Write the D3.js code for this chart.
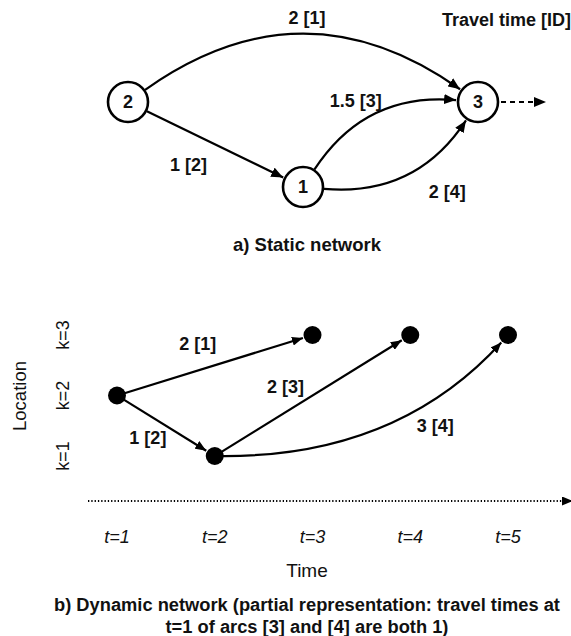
<!DOCTYPE html>
<html>
<head>
<meta charset="utf-8">
<script src="https://cdn.jsdelivr.net/npm/d3@7"></script>
<style>
  body { margin: 0; background: #fff; }
  text { font-family: "Liberation Sans", Arial, Helvetica, sans-serif; fill: #111; }
</style>
</head>
<body>
<div id="chart"></div>
<script>
// static network (a)
const staticIds = ['1', '2', '3']
const staticCol = [0.5, 0, 1]
const staticRow = [1, 0, 0]

const arcIds = [1, 2, 3, 4]
const staticFrom = ['2', '2', '1', '1']
const staticTo = ['3', '1', '3', '3']
const staticTravel = ['2', '1', '1.5', '2']

// dynamic network (b)
const timeSteps = [1, 2, 3, 4, 5]
const locations = [1, 2, 3]
const dynFromT = [1, 1, 2, 2]
const dynFromK = [2, 2, 1, 1]
const dynToT = [3, 2, 4, 5]
const dynToK = [3, 1, 3, 3]
const dynTravel = ['2', '1', '2', '3']
const dynNodesT = [1, 2, 3, 4, 5]
const dynNodesK = [2, 1, 3, 3, 3]

const width = 571,
  height = 636

let svg = d3.select('#chart')
  .append('svg')
  .attr('width', width)
  .attr('height', height)

let defs = svg.append('defs')
let mkArrow = (id, w, l) => {
  defs.append('marker')
    .attr('id', id)
    .attr('markerUnits', 'userSpaceOnUse')
    .attr('viewBox', `0 ${-w / 2} ${l} ${w}`)
    .attr('refX', l)
    .attr('refY', 0)
    .attr('markerWidth', l)
    .attr('markerHeight', w)
    .attr('orient', 'auto')
    .append('path')
    .attr('d', `M0,${-w / 2}L${l},0L0,${w / 2}Z`)
    .attr('fill', '#000')
}
mkArrow('arr', 10, 12)
mkArrow('arrS', 9, 11)

// curved path between two points, cut at node radius
let arcPath = (p0, p2, bend, shift, r0, r2) => {
  const dx = p2[0] - p0[0], dy = p2[1] - p0[1]
  const mx = (p0[0] + p2[0]) / 2, my = (p0[1] + p2[1]) / 2
  // control point: perpendicular bend + shift along the chord
  const c = [mx + bend * dy + shift * dx, my - bend * dx + shift * dy]
  const u0 = [c[0] - p0[0], c[1] - p0[1]], l0 = Math.hypot(u0[0], u0[1])
  const u2 = [c[0] - p2[0], c[1] - p2[1]], l2 = Math.hypot(u2[0], u2[1])
  const s = [p0[0] + u0[0] / l0 * r0, p0[1] + u0[1] / l0 * r0]
  const e = [p2[0] + u2[0] / l2 * r2, p2[1] + u2[1] / l2 * r2]
  const mid = [0.25 * p0[0] + 0.5 * c[0] + 0.25 * p2[0], 0.25 * p0[1] + 0.5 * c[1] + 0.25 * p2[1]]
  const p = d3.path()
  p.moveTo(s[0], s[1])
  p.quadraticCurveTo(c[0], c[1], e[0], e[1])
  return { d: p.toString(), mid: mid }
}

// ---------- a) static network ----------
const sx = d3.scaleLinear().domain([0, 1]).range([128, 478])
const sy = d3.scaleLinear().domain([0, 1]).range([102, 187])
const nodeR = 20
const pos = id => {
  const i = staticIds.indexOf(id)
  return [sx(staticCol[i]), sy(staticRow[i])]
}

const staticBend = { 1: 0.355, 2: 0, 3: 0.3, 4: -0.3 }
const staticLabelOff = { 1: [4, -22], 2: [-27, 20], 3: [-22, -18], 4: [44, 21] }

let gA = svg.append('g')
arcIds.forEach((id, i) => {
  const a = arcPath(pos(staticFrom[i]), pos(staticTo[i]), staticBend[id], 0, nodeR + 1, nodeR + 2)
  gA.append('path')
    .attr('d', a.d)
    .attr('fill', 'none')
    .attr('stroke', '#000')
    .attr('stroke-width', 2.2)
    .attr('marker-end', 'url(#arr)')
  gA.append('text')
    .attr('x', a.mid[0] + staticLabelOff[id][0])
    .attr('y', a.mid[1] + staticLabelOff[id][1])
    .attr('dy', '0.35em')
    .attr('text-anchor', 'middle')
    .attr('font-weight', 'bold')
    .attr('font-size', 18)
    .text(`${staticTravel[i]} [${id}]`)
})

// dashed exit arrow from node 3
const p3 = pos('3')
gA.append('line')
  .attr('x1', p3[0] + nodeR + 3)
  .attr('x2', p3[0] + 68)
  .attr('y1', p3[1])
  .attr('y2', p3[1])
  .attr('stroke', '#000')
  .attr('stroke-width', 2.2)
  .attr('stroke-dasharray', '5,4')
  .attr('marker-end', 'url(#arr)')

let nodes = gA.selectAll('g.node')
  .data(staticIds)
  .enter()
  .append('g')
  .attr('class', 'node')
  .attr('transform', d => `translate(${pos(d)[0]},${pos(d)[1]})`)
nodes.append('circle')
  .attr('r', nodeR)
  .attr('fill', '#fff')
  .attr('stroke', '#000')
  .attr('stroke-width', 2.6)
nodes.append('text')
  .attr('text-anchor', 'middle')
  .attr('dy', '0.35em')
  .attr('font-weight', 'bold')
  .attr('font-size', 18)
  .text(d => d)

gA.append('text')
  .attr('x', 571)
  .attr('y', 20)
  .attr('dy', '0.35em')
  .attr('text-anchor', 'end')
  .attr('font-weight', 'bold')
  .attr('font-size', 18)
  .text('Travel time [ID]')

gA.append('text')
  .attr('x', 307)
  .attr('y', 245)
  .attr('dy', '0.35em')
  .attr('text-anchor', 'middle')
  .attr('font-weight', 'bold')
  .attr('font-size', 18.5)
  .text('a) Static network')

// ---------- b) dynamic network ----------
const xScale = d3.scaleLinear().domain([1, 5]).range([117, 508])
const yScale = d3.scaleLinear().domain([1, 3]).range([456, 335])
const dotR = 9

let gB = svg.append('g')

const dynBend = { 1: 0, 2: 0, 3: 0, 4: -0.222 }
const dynShift = { 1: 0, 2: 0, 3: 0, 4: 0.03 }
const dynLabelOff = { 1: [-17, -22], 2: [-18, 12], 3: [-27, -9], 4: [56, -1] }

arcIds.forEach((id, i) => {
  const p0 = [xScale(dynFromT[i]), yScale(dynFromK[i])]
  const p2 = [xScale(dynToT[i]), yScale(dynToK[i])]
  const a = arcPath(p0, p2, dynBend[id], dynShift[id], dotR - 2, dotR + 1)
  gB.append('path')
    .attr('d', a.d)
    .attr('fill', 'none')
    .attr('stroke', '#000')
    .attr('stroke-width', 2.2)
    .attr('marker-end', 'url(#arrS)')
  gB.append('text')
    .attr('x', a.mid[0] + dynLabelOff[id][0])
    .attr('y', a.mid[1] + dynLabelOff[id][1])
    .attr('dy', '0.35em')
    .attr('text-anchor', 'middle')
    .attr('font-weight', 'bold')
    .attr('font-size', 18)
    .text(`${dynTravel[i]} [${id}]`)
})

gB.selectAll('circle.dot')
  .data(dynNodesT)
  .enter()
  .append('circle')
  .attr('class', 'dot')
  .attr('cx', d => xScale(d))
  .attr('cy', (d, i) => yScale(dynNodesK[i]))
  .attr('r', dotR)
  .attr('fill', '#000')

// time axis (dotted)
gB.append('line')
  .attr('x1', 88)
  .attr('x2', 573)
  .attr('y1', 501)
  .attr('y2', 501)
  .attr('stroke', '#000')
  .attr('stroke-width', 2)
  .attr('stroke-dasharray', '1.3,2')
  .attr('marker-end', 'url(#arrS)')

gB.selectAll('text.tick')
  .data(timeSteps)
  .enter()
  .append('text')
  .attr('class', 'tick')
  .attr('x', d => xScale(d))
  .attr('y', 537)
  .attr('dy', '0.35em')
  .attr('text-anchor', 'middle')
  .attr('font-style', 'italic')
  .attr('font-size', 18)
  .text(d => `t=${d}`)

gB.selectAll('text.loc')
  .data(locations)
  .enter()
  .append('text')
  .attr('class', 'loc')
  .attr('transform', d => `translate(63,${yScale(d)}) rotate(-90)`)
  .attr('dy', '0.35em')
  .attr('text-anchor', 'middle')
  .attr('font-size', 18)
  .text(d => `k=${d}`)

gB.append('text')
  .attr('transform', 'translate(20,396) rotate(-90)')
  .attr('dy', '0.35em')
  .attr('text-anchor', 'middle')
  .attr('font-size', 18.5)
  .text('Location')

gB.append('text')
  .attr('x', 307)
  .attr('y', 570)
  .attr('dy', '0.35em')
  .attr('text-anchor', 'middle')
  .attr('font-size', 19)
  .text('Time')

const captionB = ['b) Dynamic network (partial representation: travel times at',
  't=1 of arcs [3] and [4] are both 1)']
gB.selectAll('text.cap')
  .data(captionB)
  .enter()
  .append('text')
  .attr('class', 'cap')
  .attr('x', 307)
  .attr('y', (d, i) => 605 + i * 22)
  .attr('dy', '0.35em')
  .attr('text-anchor', 'middle')
  .attr('font-weight', 'bold')
  .attr('font-size', 18.3)
  .text(d => d)
</script>
</body>
</html>
